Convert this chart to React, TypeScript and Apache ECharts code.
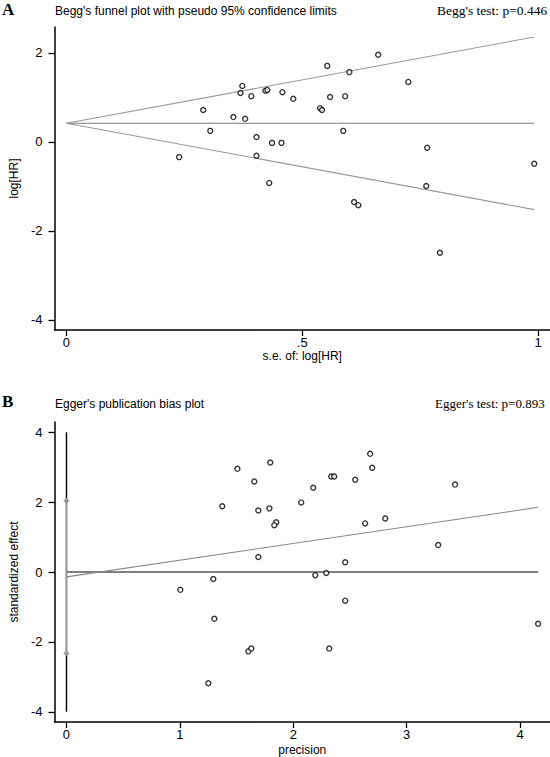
import React, { useEffect, useRef } from "react";
import * as echarts from "echarts";

// ---- Panel A: Begg's funnel plot ----
const beggSE = [0.239, 0.29, 0.305, 0.354, 0.373, 0.369, 0.379, 0.392, 0.403, 0.403, 0.422, 0.426, 0.436, 0.43, 0.458, 0.481, 0.456, 0.538, 0.542, 0.553, 0.559, 0.591, 0.587, 0.6, 0.661, 0.725, 0.765, 0.763, 0.992, 0.61, 0.619, 0.792];
const beggLogHR = [-0.34, 0.72, 0.25, 0.56, 1.26, 1.1, 0.52, 1.03, 0.11, -0.31, 1.15, 1.17, -0.02, -0.92, 1.12, 0.97, -0.02, 0.76, 0.72, 1.71, 1.01, 1.03, 0.25, 1.57, 1.96, 1.35, -0.13, -0.99, -0.49, -1.35, -1.42, -2.49];
const funnelSE = [0, 0.992];
const funnelCenter = [0.42, 0.42];
const funnelUpper = [0.42, 2.36];
const funnelLower = [0.42, -1.52];
const beggXTicks = [0, 0.5, 1];
const beggXTickLabels = ["0", ".5", "1"];
const beggYTicks = [-4, -2, 0, 2];

// ---- Panel B: Egger's publication bias plot ----
const eggerPrecision = [1.004, 1.251, 1.295, 1.304, 1.374, 1.507, 1.604, 1.63, 1.656, 1.692, 1.692, 1.789, 1.797, 1.85, 1.833, 2.07, 2.176, 2.194, 2.291, 2.317, 2.335, 2.361, 2.458, 2.458, 2.546, 2.678, 2.696, 2.634, 2.811, 3.278, 3.427, 4.159];
const eggerEffect = [-0.51, -3.18, -0.2, -1.34, 1.88, 2.95, -2.27, -2.19, 2.59, 1.76, 0.43, 1.82, 3.13, 1.42, 1.34, 1.99, 2.41, -0.09, -0.03, -2.19, 2.73, 2.73, 0.28, -0.82, 2.64, 3.38, 2.98, 1.39, 1.53, 0.77, 2.5, -1.48];
const eggerFitX = [0, 4.16];
const eggerFitY = [-0.14, 1.85];
const eggerZeroX = [0, 4.16];
const eggerBarY = [-4, 4];
const eggerCI = [-2.33, 2.04];
const eggerXTicks = [0, 1, 2, 3, 4];
const eggerYTicks = [-4, -2, 0, 2, 4];

const SANS = "'Liberation Sans', Arial, sans-serif";
const SERIF = "'Liberation Serif', 'Times New Roman', serif";

function axisCommon(ticks: number[], labels?: string[], margin = 12) {
  return {
    axisLine: { show: true, onZero: false, lineStyle: { color: "#000", width: 1.5 } },
    axisTick: { show: true, inside: false, length: 6, customValues: ticks, lineStyle: { color: "#000", width: 1.3 } },
    axisLabel: {
      show: true,
      customValues: ticks,
      margin,
      color: "#000",
      fontFamily: SANS,
      fontSize: 13,
      formatter: (v: number) => {
        if (labels) {
          const i = ticks.findIndex((t) => Math.abs(t - v) < 1e-9);
          return i >= 0 ? labels[i] : "";
        }
        return String(v);
      },
    },
    splitLine: { show: false },
  };
}

const scatterStyle = {
  symbol: "circle",
  symbolSize: 5,
  itemStyle: { color: "#fff", borderColor: "#000", borderWidth: 1.4 },
  z: 5,
};

export default function App() {
  const ref = useRef<HTMLDivElement>(null);
  useEffect(() => {
    if (!ref.current) return;
    const chart = echarts.init(ref.current, undefined, { renderer: "svg" });
    const zip = (a: number[], b: number[]) => a.map((v, i) => [v, b[i]]);
    const option: any = {
      animation: false,
      backgroundColor: "#fff",
      grid: [
        { left: 54, top: 27, right: 0, height: 303, containLabel: false },
        { left: 54, top: 422, right: 0, height: 302, containLabel: false },
      ],
      xAxis: [
        {
          gridIndex: 0,
          type: "value",
          min: -0.0254,
          max: 1.0254,
          name: "s.e. of: log[HR]",
          nameLocation: "middle",
          nameGap: 20,
          nameTextStyle: { color: "#000", fontFamily: SANS, fontSize: 12 },
          ...axisCommon(beggXTicks, beggXTickLabels, 6),
        },
        {
          gridIndex: 1,
          type: "value",
          min: -0.106,
          max: 4.264,
          name: "precision",
          nameLocation: "middle",
          nameGap: 22,
          nameTextStyle: { color: "#000", fontFamily: SANS, fontSize: 12 },
          ...axisCommon(eggerXTicks, undefined, 6),
        },
      ],
      yAxis: [
        {
          gridIndex: 0,
          type: "value",
          min: -4.225,
          max: 2.584,
          name: "log[HR]",
          nameLocation: "middle",
          nameGap: 33,
          nameRotate: 90,
          nameTextStyle: { color: "#000", fontFamily: SANS, fontSize: 12 },
          ...axisCommon(beggYTicks),
        },
        {
          gridIndex: 1,
          type: "value",
          min: -4.29,
          max: 4.29,
          name: "standardized effect",
          nameLocation: "middle",
          nameGap: 33,
          nameRotate: 90,
          nameTextStyle: { color: "#000", fontFamily: SANS, fontSize: 12 },
          ...axisCommon(eggerYTicks),
        },
      ],
      series: [
        {
          type: "line",
          xAxisIndex: 0,
          yAxisIndex: 0,
          data: zip(funnelSE, funnelCenter),
          symbol: "none",
          lineStyle: { color: "#7a7a7a", width: 1.1 },
        },
        {
          type: "line",
          xAxisIndex: 0,
          yAxisIndex: 0,
          data: zip(funnelSE, funnelUpper),
          symbol: "none",
          lineStyle: { color: "#999", width: 1.1 },
        },
        {
          type: "line",
          xAxisIndex: 0,
          yAxisIndex: 0,
          data: zip(funnelSE, funnelLower),
          symbol: "none",
          lineStyle: { color: "#999", width: 1.1 },
        },
        {
          type: "scatter",
          xAxisIndex: 0,
          yAxisIndex: 0,
          data: zip(beggSE, beggLogHR),
          ...scatterStyle,
        },
        {
          type: "line",
          xAxisIndex: 1,
          yAxisIndex: 1,
          data: zip(eggerZeroX, [0, 0]),
          symbol: "none",
          lineStyle: { color: "#000", width: 1.2 },
        },
        {
          type: "line",
          xAxisIndex: 1,
          yAxisIndex: 1,
          data: zip(eggerFitX, eggerFitY),
          symbol: "none",
          lineStyle: { color: "#888", width: 1.1 },
          z: 3,
        },
        {
          type: "line",
          xAxisIndex: 1,
          yAxisIndex: 1,
          data: zip([0, 0], eggerBarY),
          symbol: "none",
          lineStyle: { color: "#000", width: 1.4 },
        },
        {
          type: "line",
          xAxisIndex: 1,
          yAxisIndex: 1,
          data: zip([0, 0], eggerCI),
          symbol: "diamond",
          symbolSize: 5,
          showSymbol: true,
          itemStyle: { color: "#999", borderColor: "#999" },
          lineStyle: { color: "#999", width: 1.4 },
          z: 4,
        },
        {
          type: "scatter",
          xAxisIndex: 1,
          yAxisIndex: 1,
          data: zip(eggerPrecision, eggerEffect),
          ...scatterStyle,
        },
      ],
      graphic: [
        { type: "text", left: 2, top: 1, style: { text: "A", font: `bold 17px ${SERIF}`, fill: "#000" } },
        { type: "text", left: 55, top: 5, style: { text: "Begg's funnel plot with pseudo 95% confidence limits", font: `12px ${SANS}`, fill: "#000" } },
        { type: "text", left: 437, top: 3, style: { text: "Begg's test: p=0.446", font: `13.5px ${SERIF}`, fill: "#000" } },
        { type: "text", left: 2, top: 393, style: { text: "B", font: `bold 17px ${SERIF}`, fill: "#000" } },
        { type: "text", left: 55, top: 398, style: { text: "Egger's publication bias plot", font: `12px ${SANS}`, fill: "#000" } },
        { type: "text", left: 435, top: 397, style: { text: "Egger's test: p=0.893", font: `13px ${SERIF}`, fill: "#000" } },
      ],
    };
    chart.setOption(option);
    return () => chart.dispose();
  }, []);
  return (
    <div
      ref={ref}
      style={{ position: "absolute", left: 0, top: 0, width: 550, height: 757, background: "#fff" }}
    />
  );
}
